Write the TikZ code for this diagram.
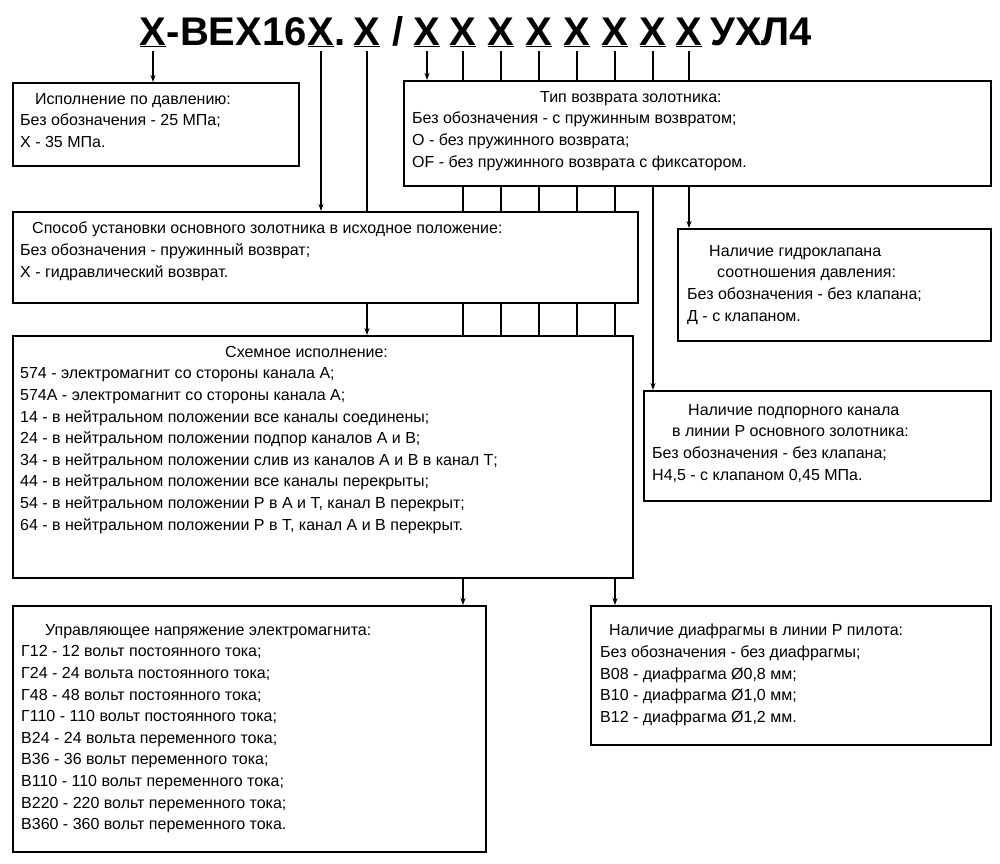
\documentclass[tikz,border=0pt]{standalone}
\usepackage{fontspec}
\setmainfont{Liberation Sans}
\usetikzlibrary{arrows.meta}

\tikzset{
    infobox/.style={draw, line width=1.6pt, fill=white, anchor=north west, inner sep=0pt},
    infotext/.style={anchor=north west, align=left, inner sep=0pt, font=\fontsize{16}{21.6}\selectfont},
    codepos/.style={font=\fontsize{40}{40}\selectfont\bfseries, inner sep=0pt, anchor=base},
    lead/.style={line width=1.2pt},
    leadarrow/.style={line width=1.2pt, -{Stealth[length=7pt, width=5pt]}}
}

\newcommand{\ux}{\underline{Х}}

\begin{document}
\begin{tikzpicture}[x=1pt, y=-1pt]
        \useasboundingbox[fill=white] (0, 0) rectangle (1000, 863);

        % title with positions
        \node[codepos] (p1) at (153, 45) {\ux};
        \node[codepos, anchor=base west] (t1) at (p1.base east) {-ВЕХ16};
        \node[codepos] (p2) at (321, 45) {\ux};
        \node[codepos, anchor=base west] at (p2.base east) {.};
        \node[codepos] (p3) at (367, 45) {\ux};
        \node[codepos] at (398, 45) {/};
        \foreach \n/\x in {4/427, 5/463, 6/501, 7/539, 8/577, 9/615, 10/653, 11/689}
            \node[codepos] (p\n) at (\x, 45) {\ux};
        \node[codepos, anchor=base west] at (710, 45) {УХЛ4};

        \foreach \n in {1,...,11}
            \coordinate (s\n) at ([yshift=-4pt]p\n.south);

        % connectors (under the boxes)
        \draw[leadarrow] (s1) -- (153, 82);
        \draw[leadarrow] (s2) -- (321, 211);
        \draw[lead] (s3) -- (367, 211);
        \draw[leadarrow] (367, 302) -- (367, 335);
        \draw[leadarrow] (s4) -- (427, 80);
        \foreach \n/\x in {5/463, 6/501, 7/539, 8/577, 9/615}
            \draw[lead] (s\n) -- (\x, 335);
        \draw[leadarrow] (463, 577) -- (463, 605);
        \draw[leadarrow] (615, 577) -- (615, 605);
        \draw[leadarrow] (s10) -- (653, 390);
        \draw[leadarrow] (s11) -- (689, 228);

        % boxes
        \node[infobox, minimum width=286, minimum height=83] (pressure) at (12, 82) {};
        \node[infobox, minimum width=587, minimum height=105] (spool) at (403, 80) {};
        \node[infobox, minimum width=625, minimum height=91] (reset) at (12, 211) {};
        \node[infobox, minimum width=313, minimum height=112] (valve) at (677, 228) {};
        \node[infobox, minimum width=620, minimum height=242] (scheme) at (12, 335) {};
        \node[infobox, minimum width=347, minimum height=110] (channel) at (643, 390) {};
        \node[infobox, minimum width=473, minimum height=246] (voltage) at (12, 605) {};
        \node[infobox, minimum width=400, minimum height=139] (orifice) at (590, 605) {};

        % texts
        \node[infotext] at (20, 93) {\hspace*{15pt}Исполнение по давлению:\\
            Без обозначения - 25 МПа;\\Х - 35 МПа.};
        \node[infotext] at (412, 91) {\hspace*{128pt}Тип возврата золотника:\\
            Без обозначения - с пружинным возвратом;\\
            О - без пружинного возврата;\\
            OF - без пружинного возврата с фиксатором.};
        \node[infotext] at (20, 222) {\hspace*{12pt}Способ установки основного золотника в исходное положение:\\
            Без обозначения - пружинный возврат;\\
            Х - гидравлический возврат.};
        \node[infotext] at (687, 245) {\hspace*{22pt}Наличие гидроклапана\\
            \hspace*{30pt}соотношения давления:\\
            Без обозначения - без клапана;\\
            Д - с клапаном.};
        \node[infotext] at (20, 346) {\hspace*{205pt}Схемное исполнение:\\
            574 - электромагнит со стороны канала А;\\
            574А - электромагнит со стороны канала А;\\
            14 - в нейтральном положении все каналы соединены;\\
            24 - в нейтральном положении подпор каналов А и В;\\
            34 - в нейтральном положении слив из каналов А и В в канал Т;\\
            44 - в нейтральном положении все каналы перекрыты;\\
            54 - в нейтральном положении Р в А и Т, канал В перекрыт;\\
            64 - в нейтральном положении Р в Т, канал А и В перекрыт.};
        \node[infotext] at (652, 404) {\hspace*{36pt}Наличие подпорного канала\\
            \hspace*{20pt}в линии Р основного золотника:\\
            Без обозначения - без клапана;\\
            Н4,5 - с клапаном 0,45 МПа.};
        \node[infotext] at (21, 624) {\hspace*{24pt}Управляющее напряжение электромагнита:\\
            Г12 - 12 вольт постоянного тока;\\
            Г24 - 24 вольта постоянного тока;\\
            Г48 - 48 вольт постоянного тока;\\
            Г110 - 110 вольт постоянного тока;\\
            В24 - 24 вольта переменного тока;\\
            В36 - 36 вольт переменного тока;\\
            В110 - 110 вольт переменного тока;\\
            В220 - 220 вольт переменного тока;\\
            В360 - 360 вольт переменного тока.};
        \node[infotext] at (600, 624) {\hspace*{9pt}Наличие диафрагмы в линии Р пилота:\\
            Без обозначения - без диафрагмы;\\
            В08 - диафрагма Ø0,8 мм;\\
            В10 - диафрагма Ø1,0 мм;\\
            В12 - диафрагма Ø1,2 мм.};
    \end{tikzpicture}
\end{document}
